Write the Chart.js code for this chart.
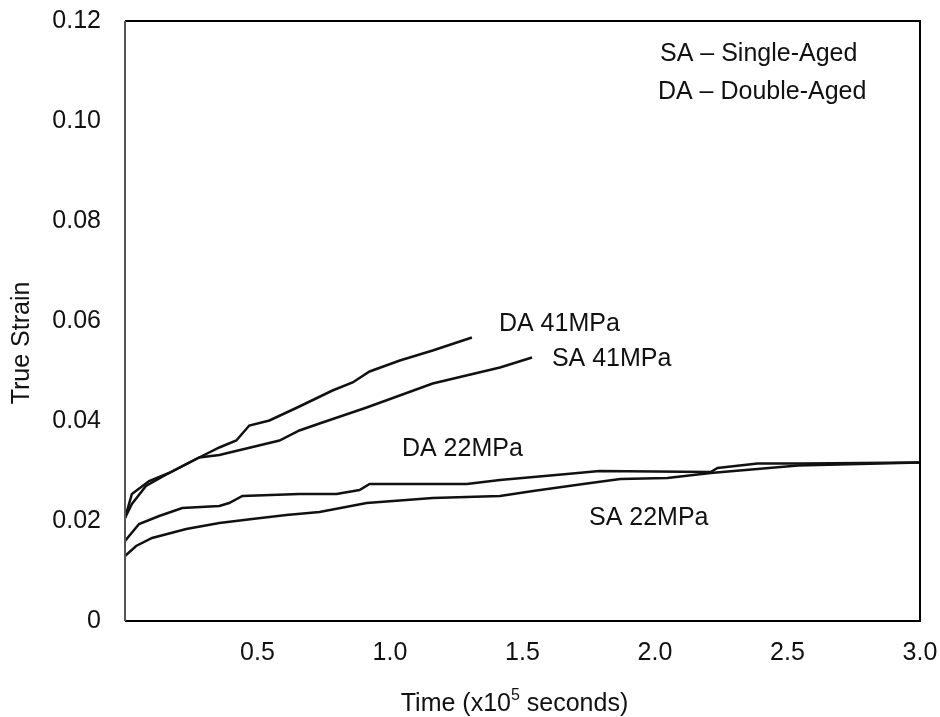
<!DOCTYPE html>
<html>
<head>
<meta charset="utf-8">
<script src="https://cdn.jsdelivr.net/npm/chart.js@4/dist/chart.umd.min.js"></script>
<style>
  body { margin: 0; background: #fff; }
  #wrap { width: 940px; height: 717px; }
</style>
</head>
<body>
<div id="wrap"><canvas id="graph" width="940" height="717"></canvas></div>
<script>
// creep curves, time in 1e5 s, true strain
const daTime41 = [0, 0.026, 0.091, 0.166, 0.28, 0.356, 0.42, 0.469, 0.545, 0.658, 0.783, 0.859, 0.923, 1.037, 1.161, 1.309];
const daStrain41 = [0.0206, 0.0254, 0.0280, 0.0296, 0.0327, 0.0347, 0.0361, 0.0391, 0.0401, 0.0429, 0.0461, 0.0477, 0.0499, 0.0521, 0.0541, 0.0567];

const saTime41 = [0, 0.026, 0.079, 0.166, 0.28, 0.356, 0.583, 0.658, 0.734, 0.912, 1.161, 1.415, 1.536];
const saStrain41 = [0.0206, 0.0234, 0.0270, 0.0296, 0.0327, 0.0332, 0.0361, 0.0381, 0.0395, 0.0427, 0.0475, 0.0507, 0.0527];

const daTime22 = [0, 0.053, 0.129, 0.216, 0.356, 0.393, 0.443, 0.658, 0.798, 0.885, 0.923, 1.29, 1.415, 1.668, 1.79, 2.21, 2.236, 2.387, 2.55, 3.0];
const daStrain22 = [0.0160, 0.0194, 0.0210, 0.0226, 0.0230, 0.0236, 0.0250, 0.0254, 0.0254, 0.0262, 0.0274, 0.0274, 0.0282, 0.0294, 0.0300, 0.0298, 0.0306, 0.0315, 0.0315, 0.0317];

const saTime22 = [0, 0.042, 0.102, 0.231, 0.356, 0.48, 0.609, 0.734, 0.912, 1.161, 1.415, 1.54, 1.729, 1.869, 2.047, 2.21, 2.54, 3.0];
const saStrain22 = [0.0130, 0.0150, 0.0166, 0.0184, 0.0196, 0.0204, 0.0212, 0.0218, 0.0236, 0.0246, 0.0250, 0.0260, 0.0274, 0.0284, 0.0286, 0.0296, 0.0311, 0.0317];

const seriesNames = ['DA 41MPa', 'SA 41MPa', 'DA 22MPa', 'SA 22MPa'];
const xTicks = [0.5, 1.0, 1.5, 2.0, 2.5, 3.0];
const yTicks = [0, 0.02, 0.04, 0.06, 0.08, 0.10, 0.12];

// curve labels, placed in data units (left edge, middle)
const curveLabels = [
    { text: 'DA 41MPa', x: 1.411, y: 0.0594 },
    { text: 'SA 41MPa', x: 1.611, y: 0.0523 },
    { text: 'DA 22MPa', x: 1.045, y: 0.0344 },
    { text: 'SA 22MPa', x: 1.751, y: 0.0206 },
    { text: 'SA \u2013 Single-Aged', x: 2.019, y: 0.1134 },
    { text: 'DA \u2013 Double-Aged', x: 2.011, y: 0.1058 }
];

const FONT = '"Liberation Sans", Arial, sans-serif';
const INK = '#111';

function toPoints(xs, ys) {
    return xs.map((x, i) => ({ x: x, y: ys[i] }));
}

const pointSets = [
    toPoints(daTime41, daStrain41),
    toPoints(saTime41, saStrain41),
    toPoints(daTime22, daStrain22),
    toPoints(saTime22, saStrain22)
];

const extras = {
    id: 'extras',
    afterDraw(chart) {
        const ctx = chart.ctx;
        const a = chart.chartArea;
        const xs = chart.scales.x;
        const ys = chart.scales.y;
        ctx.save();

        // frame
        ctx.lineWidth = 2;
        ctx.strokeStyle = '#000';
        ctx.beginPath();
        ctx.moveTo(a.left, a.top);
        ctx.lineTo(a.right, a.top);
        ctx.lineTo(a.right, a.bottom);
        ctx.lineTo(a.left, a.bottom);
        ctx.stroke();
        ctx.strokeStyle = '#555';
        ctx.beginPath();
        ctx.moveTo(a.left, a.top);
        ctx.lineTo(a.left, a.bottom);
        ctx.stroke();

        ctx.fillStyle = INK;
        ctx.font = '25px ' + FONT;
        ctx.textBaseline = 'middle';
        ctx.textAlign = 'left';
        curveLabels.forEach(l => {
            ctx.fillText(l.text, xs.getPixelForValue(l.x), ys.getPixelForValue(l.y));
        });

        // y title
        ctx.save();
        ctx.translate(22, (a.top + a.bottom) / 2 + 22);
        ctx.rotate(-Math.PI / 2);
        ctx.textAlign = 'center';
        ctx.fillText('True Strain', 0, 0);
        ctx.restore();

        // x title with superscript
        const p1 = 'Time (x10';
        const p2 = '5';
        const p3 = ' seconds)';
        ctx.font = '25px ' + FONT;
        const w1 = ctx.measureText(p1).width;
        const w3 = ctx.measureText(p3).width;
        ctx.font = '16px ' + FONT;
        const w2 = ctx.measureText(p2).width;
        const total = w1 + w2 + w3;
        let cx = (a.left + a.right) / 2 - 8 - total / 2;
        const ty = 704;
        ctx.textAlign = 'left';
        ctx.font = '25px ' + FONT;
        ctx.fillText(p1, cx, ty);
        cx += w1;
        ctx.font = '16px ' + FONT;
        ctx.fillText(p2, cx, ty - 8);
        cx += w2;
        ctx.font = '25px ' + FONT;
        ctx.fillText(p3, cx, ty);

        ctx.restore();
    }
};

const ctx = document.getElementById('graph').getContext('2d');
const graph = new Chart(ctx, {
    type: 'line',
    data: {
        datasets: pointSets.map((pts, i) => ({
            label: seriesNames[i],
            data: pts,
            borderColor: INK,
            borderWidth: 2.5,
            pointRadius: 0,
            tension: 0,
            fill: false
        }))
    },
    options: {
        responsive: false,
        animation: false,
        layout: { padding: { top: 21, right: 20, left: 0, bottom: 0 } },
        plugins: { legend: { display: false }, tooltip: { enabled: false } },
        scales: {
            x: {
                type: 'linear',
                min: 0,
                max: 3,
                afterBuildTicks: s => { s.ticks = xTicks.map(v => ({ value: v })); },
                afterFit: s => { s.height = 96; s.paddingLeft = 0; s.paddingRight = 0; },
                grid: { display: false, drawTicks: false },
                border: { display: false },
                ticks: {
                    color: INK,
                    padding: 17,
                    maxRotation: 0,
                    font: { family: FONT, size: 25 },
                    callback: v => v.toFixed(1)
                }
            },
            y: {
                type: 'linear',
                min: 0,
                max: 0.12,
                afterBuildTicks: s => { s.ticks = yTicks.map(v => ({ value: v })); },
                afterFit: s => { s.width = 125; s.paddingTop = 0; s.paddingBottom = 0; },
                grid: { display: false, drawTicks: false },
                border: { display: false },
                ticks: {
                    color: INK,
                    padding: 24,
                    font: { family: FONT, size: 25 },
                    callback: v => v === 0 ? '0' : v.toFixed(2)
                }
            }
        }
    },
    plugins: [extras]
});
</script>
</body>
</html>
